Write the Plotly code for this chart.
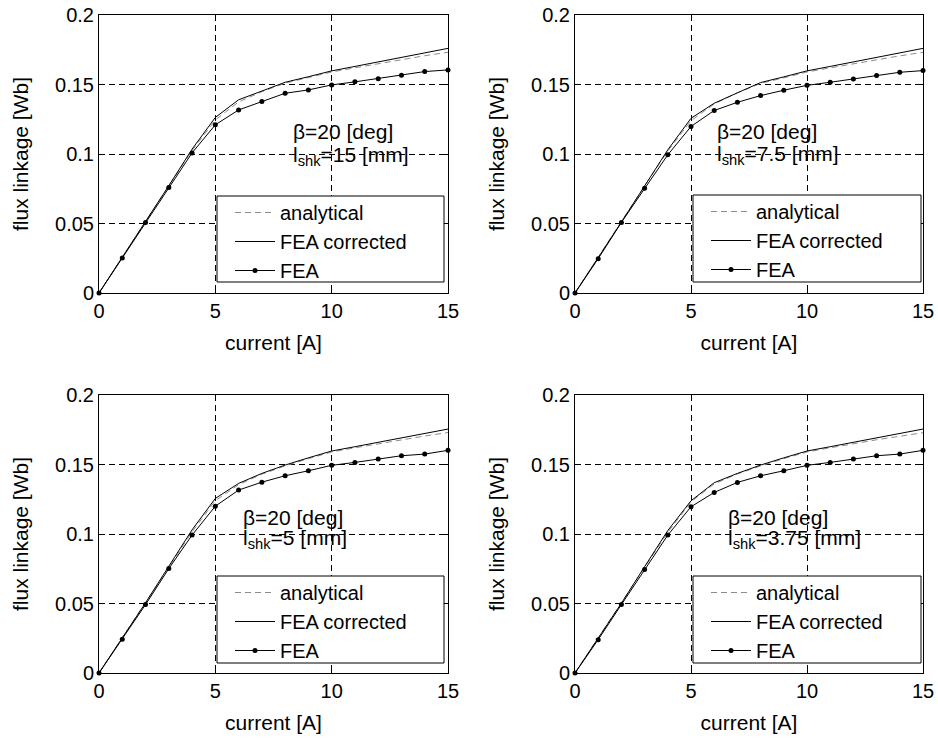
import plotly.graph_objects as go

# ---------------- data ----------------
current = [0, 1, 2, 3, 4, 5, 6, 7, 8, 9, 10, 11, 12, 13, 14, 15]

lshk_labels = ["15", "7.5", "5", "3.75"]

analytical_1 = [0, 0.0260, 0.0515, 0.0770, 0.1025, 0.1245, 0.1375, 0.1448, 0.1510, 0.1550, 0.1590, 0.1620, 0.1650, 0.1680, 0.1707, 0.1732]
corrected_1 = [0, 0.0255, 0.0512, 0.0772, 0.1035, 0.1263, 0.1390, 0.1455, 0.1516, 0.1556, 0.1598, 0.1630, 0.1662, 0.1694, 0.1727, 0.1760]
fea_1 = [0, 0.0251, 0.0508, 0.0759, 0.1008, 0.1210, 0.1317, 0.1377, 0.1437, 0.1461, 0.1497, 0.1519, 0.1542, 0.1566, 0.1593, 0.1605]

analytical_2 = [0, 0.0260, 0.0515, 0.0770, 0.1022, 0.1240, 0.1360, 0.1440, 0.1508, 0.1548, 0.1590, 0.1620, 0.1650, 0.1680, 0.1706, 0.1732]
corrected_2 = [0, 0.0253, 0.0510, 0.0770, 0.1030, 0.1257, 0.1365, 0.1440, 0.1514, 0.1555, 0.1598, 0.1630, 0.1662, 0.1694, 0.1727, 0.1760]
fea_2 = [0, 0.0247, 0.0508, 0.0754, 0.0994, 0.1198, 0.1313, 0.1372, 0.1420, 0.1459, 0.1494, 0.1516, 0.1540, 0.1564, 0.1588, 0.1600]

analytical_3 = [0, 0.0255, 0.0505, 0.0765, 0.1015, 0.1240, 0.1355, 0.1430, 0.1490, 0.1542, 0.1590, 0.1620, 0.1650, 0.1680, 0.1705, 0.1730]
corrected_3 = [0, 0.0250, 0.0505, 0.0768, 0.1030, 0.1256, 0.1364, 0.1436, 0.1496, 0.1548, 0.1597, 0.1628, 0.1660, 0.1692, 0.1720, 0.1755]
fea_3 = [0, 0.0242, 0.0492, 0.0751, 0.0992, 0.1200, 0.1316, 0.1373, 0.1419, 0.1455, 0.1494, 0.1515, 0.1539, 0.1563, 0.1575, 0.1602]

analytical_4 = [0, 0.0255, 0.0505, 0.0762, 0.1012, 0.1232, 0.1360, 0.1432, 0.1490, 0.1542, 0.1590, 0.1620, 0.1650, 0.1678, 0.1703, 0.1729]
corrected_4 = [0, 0.0250, 0.0502, 0.0765, 0.1025, 0.1239, 0.1369, 0.1436, 0.1496, 0.1548, 0.1597, 0.1628, 0.1660, 0.1690, 0.1722, 0.1755]
fea_4 = [0, 0.0240, 0.0492, 0.0744, 0.0992, 0.1196, 0.1299, 0.1371, 0.1419, 0.1455, 0.1494, 0.1515, 0.1539, 0.1563, 0.1575, 0.1602]

analytical_all = [analytical_1, analytical_2, analytical_3, analytical_4]
corrected_all = [corrected_1, corrected_2, corrected_3, corrected_4]
fea_all = [fea_1, fea_2, fea_3, fea_4]

x_ticks = [0, 5, 10, 15]
y_ticks = [0, 0.05, 0.1, 0.15, 0.2]
y_tick_text = ["0", "0.05", "0.1", "0.15", "0.2"]

# ---------------- layout helpers ----------------
W, H = 938, 740
FONT = "Liberation Sans, Arial, sans-serif"

# plot boxes in window pixels: (left, right, top, bottom)
boxes = [(99, 448, 15, 293), (575, 923, 15, 293),
         (99, 448, 395, 673), (575, 923, 395, 673)]
# annotation positions (data coords): beta line, l_shk line
ann_pos = [((8.27, 0.1165), (8.27, 0.0988)),
           ((6.05, 0.1165), (6.05, 0.0992)),
           ((6.12, 0.1118), (6.12, 0.0964)),
           ((6.52, 0.1118), (6.52, 0.0964))]
# legend boxes in window pixels: (left, right, top, bottom)
leg_boxes = [(217, 444, 196, 282), (693, 921, 195, 282),
             (217, 444, 576, 663), (693, 921, 576, 663)]


def fx(px):
    return px / W


def fy(py):
    return 1 - py / H


fig = go.Figure()
layout = dict(width=W, height=H,
              margin=dict(l=0, r=0, t=0, b=0, autoexpand=False),
              paper_bgcolor="white", plot_bgcolor="white",
              font=dict(family=FONT, size=20, color="black"),
              showlegend=True)
shapes = []
annotations = []

for i in range(4):
    n = "" if i == 0 else str(i + 1)
    xa, ya = "x" + n, "y" + n
    leg = "legend" + n
    L, R, T, B = boxes[i]
    layout["xaxis" + n] = dict(
        domain=[fx(L), fx(R)], range=[0, 15], anchor=ya, automargin=False,
        tickvals=x_ticks, ticks="inside", ticklen=5, tickcolor="black",
        showline=True, linecolor="black", linewidth=1, mirror="ticks",
        showgrid=True, gridcolor="black", gridwidth=1, griddash="6px,4px",
        zeroline=False, tickfont=dict(size=20), ticklabeloverflow="allow",
        title=dict(text="current [A]", font=dict(size=21), standoff=14))
    layout["yaxis" + n] = dict(
        domain=[fy(B), fy(T)], range=[0, 0.2], anchor=xa, automargin=False,
        tickvals=y_ticks, ticktext=y_tick_text, ticks="inside", ticklen=5,
        tickcolor="black", ticklabeloverflow="allow",
        showline=True, linecolor="black", linewidth=1, mirror="ticks",
        showgrid=True, gridcolor="black", gridwidth=1, griddash="6px,4px",
        zeroline=False, tickfont=dict(size=20),
        title=dict(text="flux linkage [Wb]", font=dict(size=21), standoff=20))

    fig.add_trace(go.Scatter(x=current, y=analytical_all[i], mode="lines",
                             name="analytical", legend=leg, xaxis=xa, yaxis=ya,
                             line=dict(color="#8c8c8c", width=1, dash="6px,4px")))
    fig.add_trace(go.Scatter(x=current, y=corrected_all[i], mode="lines",
                             name="FEA corrected", legend=leg, xaxis=xa, yaxis=ya,
                             line=dict(color="black", width=1)))
    fig.add_trace(go.Scatter(x=current, y=fea_all[i], mode="lines+markers",
                             name="FEA", legend=leg, xaxis=xa, yaxis=ya,
                             cliponaxis=False,
                             line=dict(color="black", width=1),
                             marker=dict(color="black", size=5)))

    lL, lR, lT, lB = leg_boxes[i]
    shapes.append(dict(type="rect", xref="paper", yref="paper",
                       x0=fx(lL), x1=fx(lR), y0=fy(lB), y1=fy(lT),
                       fillcolor="white", line=dict(color="black", width=1),
                       layer="above"))
    layout[leg] = dict(x=fx(lL + 13), y=fy(lT - 3), xanchor="left",
                       yanchor="top", bgcolor="rgba(0,0,0,0)", borderwidth=0,
                       font=dict(size=20, family=FONT), tracegroupgap=0,
                       itemwidth=40)

    (bx, by), (lx, ly) = ann_pos[i]
    annotations.append(dict(x=bx, y=by, xref=xa, yref=ya, text="β=20 [deg]",
                            showarrow=False, xanchor="left", yanchor="middle",
                            font=dict(size=21)))
    annotations.append(dict(x=lx, y=ly, xref=xa, yref=ya,
                            text="l<sub>shk</sub>=" + lshk_labels[i] + " [mm]",
                            showarrow=False, xanchor="left", yanchor="middle",
                            font=dict(size=21)))

layout["shapes"] = shapes
layout["annotations"] = annotations
fig.update_layout(**layout)
fig.write_html("out.html",
               config={"displayModeBar": False},
               post_script="document.body.style.margin='0';"
                           "document.body.style.overflow='hidden';")
